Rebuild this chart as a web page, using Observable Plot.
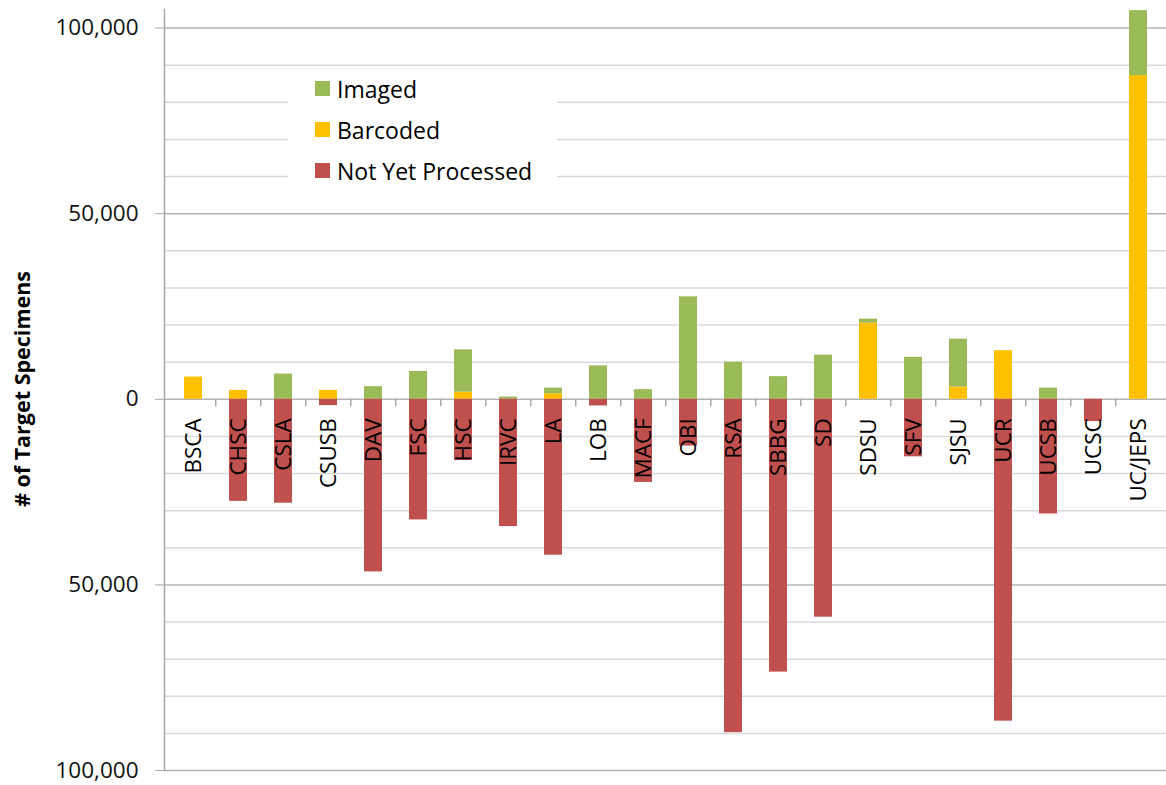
<!DOCTYPE html>
<html>
<head>
<meta charset="utf-8">
<script src="https://cdn.jsdelivr.net/npm/d3@7"></script>
<script src="https://cdn.jsdelivr.net/npm/@observablehq/plot@0.6"></script>
<style>
  html, body { margin: 0; padding: 0; background: #fff; }
  #wrap { position: relative; width: 1166px; height: 785px; overflow: hidden; font-family: "Open Sans", sans-serif; }
  #legend { position: absolute; left: 288px; top: 68px; width: 269px; height: 125px; background: #fff; }
  .item { display: flex; align-items: center; height: 41px; padding-left: 27px; font-size: 23px; color: #000; }
  .sw { width: 15px; height: 15px; margin-right: 7px; flex: none; }
</style>
</head>
<body>
<div id="wrap"></div>
<script>
const categories = ["BSCA","CHSC","CSLA","CSUSB","DAV","FSC","HSC","IRVC","LA","LOB","MACF","OBI","RSA","SBBG","SD","SDSU","SFV","SJSU","UCR","UCSB","UCSC","UC/JEPS"];
const imaged       = [0, 0, 6800, 0, 3400, 7500, 11400, 600, 1500, 9000, 2600, 27600, 10000, 6100, 11900, 1100, 11300, 12900, 0, 3000, 0, 17500];
const barcoded     = [6000, 2400, 0, 2400, 0, 0, 1900, 0, 1500, 0, 0, 0, 0, 0, 0, 20500, 0, 3300, 13100, 0, 0, 87200];
const notProcessed = [0, 27500, 28000, 1700, 46500, 32500, 16500, 34300, 42000, 1800, 22400, 12600, 89800, 73500, 58700, 0, 15500, 0, 86700, 30900, 6000, 0];
const seriesNames  = ["Barcoded", "Imaged", "Not Yet Processed"];
const seriesColors = ["#ffc000", "#9bbb59", "#c0504d"];
const legendOrder  = ["Imaged", "Barcoded", "Not Yet Processed"];
const majorTicks   = [-100000, -50000, 0, 50000, 100000];
const minorTicks   = [-90000,-80000,-70000,-60000,-40000,-30000,-20000,-10000,10000,20000,30000,40000,60000,70000,80000,90000];
const yTitle = "# of Target Specimens";

const rows = [];
categories.forEach((c, i) => {
  rows.push({cat: c, series: "Barcoded", value: barcoded[i]});
  rows.push({cat: c, series: "Imaged", value: imaged[i]});
  rows.push({cat: c, series: "Not Yet Processed", value: -notProcessed[i]});
});

const W = 1166, H = 785, ML = 164, MR = 0, MT = 9, MB = 15;
const step = (W - ML - MR) / categories.length;
const fmt = d3.format(",");

const plot = Plot.plot({
  width: W, height: H,
  marginLeft: ML, marginRight: MR, marginTop: MT, marginBottom: MB,
  style: {fontFamily: "Open Sans, sans-serif", fontSize: "22px", background: "#fff", overflow: "visible"},
  x: {type: "band", domain: categories, paddingInner: 0.6, paddingOuter: 0.3, axis: null},
  y: {domain: [-100000, 105000], axis: null},
  color: {domain: seriesNames, range: seriesColors},
  marks: [
    Plot.ruleY(minorTicks, {stroke: "#d9d9d9", strokeWidth: 1.5}),
    Plot.ruleY(majorTicks, {stroke: "#b3b3b3", strokeWidth: 1.5}),
    Plot.barY(rows, Plot.stackY({x: "cat", y: "value", z: "series", fill: "series", order: seriesNames})),
    Plot.ruleX(categories.slice(1), {x: d => d, y1: 0, y2: -2000, dx: -step / 2, stroke: "#a6a6a6", strokeWidth: 1.5}),
    Plot.text(categories, {x: d => d, y: 0, rotate: -90, textAnchor: "end", dy: 19, fontSize: 22.5, fill: "#000"}),
    Plot.axisY({ticks: majorTicks, tickSize: 9, tickPadding: 17, tickFormat: d => fmt(Math.abs(d)), fontSize: 22.5, stroke: "#a6a6a6", fill: "#111", label: null}),
    Plot.frame({anchor: "left", stroke: "#a6a6a6", strokeWidth: 1.5}),
    Plot.text([yTitle], {frameAnchor: "left", dx: -141, dy: -1, rotate: -90, textAnchor: "middle", fontWeight: "bold", fontSize: 21.5, fill: "#000"})
  ]
});

const wrap = document.getElementById("wrap");
wrap.appendChild(plot);

const legend = document.createElement("div");
legend.id = "legend";
legendOrder.forEach(name => {
  const it = document.createElement("div");
  it.className = "item";
  const sw = document.createElement("span");
  sw.className = "sw";
  sw.style.background = seriesColors[seriesNames.indexOf(name)];
  const tx = document.createElement("span");
  tx.textContent = name;
  it.appendChild(sw);
  it.appendChild(tx);
  legend.appendChild(it);
});
wrap.appendChild(legend);
</script>
</body>
</html>
